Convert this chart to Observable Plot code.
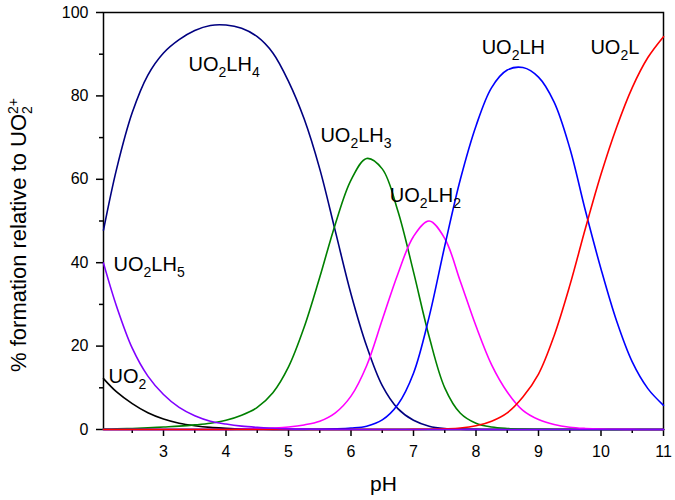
<!DOCTYPE html>
<html>
<head>
<meta charset="utf-8">
<script src="https://cdn.jsdelivr.net/npm/d3@7"></script>
<script src="https://cdn.jsdelivr.net/npm/@observablehq/plot@0.6"></script>
<style>
  html, body { margin: 0; padding: 0; background: #fff; }
  #chart { width: 675px; height: 500px; }
</style>
</head>
<body>
<div id="chart"></div>
<script>
// ---- data ----
const pH = [2.04, 2.25, 2.5, 2.75, 3, 3.25, 3.5, 3.75, 4, 4.25, 4.5, 4.75, 5, 5.25, 5.5, 5.75, 6, 6.25, 6.5, 6.75, 7, 7.25, 7.5, 7.75, 8, 8.25, 8.5, 8.75, 9, 9.25, 9.5, 9.75, 10, 10.25, 10.5, 10.75, 11];

const UO2    = [12.2, 9.0, 6.2, 4.0, 2.5, 1.5, 0.9, 0.5, 0.3, 0.15, 0.08, 0.04, 0.02, 0, 0, 0, 0, 0, 0, 0, 0, 0, 0, 0, 0, 0, 0, 0, 0, 0, 0, 0, 0, 0, 0, 0, 0];
const UO2LH5 = [39.9, 29.5, 19.5, 12.8, 8.4, 5.3, 3.3, 2.0, 1.3, 0.8, 0.5, 0.3, 0.15, 0.08, 0.04, 0.02, 0, 0, 0, 0, 0, 0, 0, 0, 0, 0, 0, 0, 0, 0, 0, 0, 0, 0, 0, 0, 0];
const UO2LH4 = [47.8, 62.5, 76.0, 85.0, 90.3, 93.5, 95.7, 96.9, 97.0, 96.2, 94.2, 90.3, 83.5, 74.5, 62.5, 47.5, 32.5, 20.0, 10.5, 5.0, 2.2, 0.8, 0.25, 0.1, 0.03, 0, 0, 0, 0, 0, 0, 0, 0, 0, 0, 0, 0];
const UO2LH3 = [0.1, 0.15, 0.25, 0.4, 0.6, 0.8, 1.1, 1.5, 2.2, 3.4, 5.3, 8.8, 15.0, 24.5, 36.5, 49.3, 59.8, 65.0, 62.5, 52.4, 37.8, 22.3, 10.0, 3.9, 1.5, 0.6, 0.25, 0.1, 0.05, 0, 0, 0, 0, 0, 0, 0, 0];
const UO2LH2 = [0, 0, 0, 0, 0, 0, 0, 0, 0, 0.1, 0.2, 0.35, 0.6, 1.1, 2.0, 4.0, 8.0, 15.3, 26.3, 37.3, 46.3, 50.0, 45.8, 35.5, 24.8, 15.5, 9.0, 4.6, 2.4, 1.2, 0.55, 0.25, 0.1, 0.05, 0.02, 0, 0];
const UO2LH  = [0, 0, 0, 0, 0, 0, 0, 0, 0, 0, 0, 0, 0, 0.02, 0.05, 0.15, 0.35, 0.8, 2.3, 6.0, 13.5, 27.0, 44.0, 60.0, 72.8, 82.0, 86.2, 86.8, 84.5, 78.5, 67.5, 52.5, 38.5, 26.0, 16.2, 9.8, 5.8];
const UO2L   = [0, 0, 0, 0, 0, 0, 0, 0, 0, 0, 0, 0, 0, 0, 0, 0, 0, 0, 0, 0, 0.02, 0.05, 0.15, 0.35, 0.9, 2.0, 4.0, 7.8, 13.3, 22.5, 34.5, 48.2, 61.2, 72.5, 82.0, 89.2, 94.2];

const seriesNames  = ["UO2", "UO2LH4", "UO2LH3", "UO2LH2", "UO2LH", "UO2L", "UO2LH5"];
const seriesValues = [UO2, UO2LH4, UO2LH3, UO2LH2, UO2LH, UO2L, UO2LH5];
const seriesColors = ["#000000", "#000080", "#008000", "#ff00ff", "#0000ff", "#ff0000", "#8000ff"];

const labelText = ["UO_2LH_4", "UO_2LH_5", "UO_2", "UO_2LH_3", "UO_2LH_2", "UO_2LH", "UO_2L"];
const labelX    = [3.40, 2.20, 2.12, 5.51, 6.62, 8.09, 9.83];
const labelY    = [85.9, 38.1, 11.2, 68.9, 54.5, 90.1, 90.1];

const xTicks = [3, 4, 5, 6, 7, 8, 9, 10, 11];
const xMinor = [2.5, 3.5, 4.5, 5.5, 6.5, 7.5, 8.5, 9.5, 10.5];
const yTicks = [0, 20, 40, 60, 80, 100];
const yMinor = [10, 30, 50, 70, 90];

const xTitle = "pH";
const yTitle = "% formation relative to UO_2^{2+}";

// ---- build ----
const lineMarks = seriesNames.map((name, s) =>
  Plot.line(pH.map((x, i) => ({x, y: seriesValues[s][i]})), {
    x: "x", y: "y", stroke: seriesColors[s], strokeWidth: 1.6, curve: "catmull-rom"
  })
);
const labels = labelText.map((t, i) => ({t, x: labelX[i], y: labelY[i]}));

const chart = Plot.plot({
  width: 675,
  height: 500,
  marginLeft: 103,
  marginRight: 12,
  marginTop: 12,
  marginBottom: 71,
  style: {fontFamily: "'Liberation Sans', Arial, sans-serif", fontSize: "16px", background: "#fff", color: "#000"},
  x: {domain: [2.04, 11]},
  y: {domain: [0, 100]},
  marks: [
    Plot.axisX({ticks: xMinor, tickSize: 4, tickFormat: () => "", label: null, strokeWidth: 1.5}),
    Plot.axisX({ticks: xTicks, tickSize: 7, tickPadding: 9, label: null, strokeWidth: 1.5, fontSize: 16}),
    Plot.axisY({ticks: yMinor, tickSize: 4, tickFormat: () => "", label: null, strokeWidth: 1.5}),
    Plot.axisY({ticks: yTicks, tickSize: 7, tickPadding: 8, label: null, strokeWidth: 1.5, fontSize: 16}),
    Plot.frame({stroke: "#000", strokeWidth: 1.5}),
    ...lineMarks,
    Plot.text(labels, {x: "x", y: "y", text: "t", textAnchor: "start", lineAnchor: "bottom", fontSize: 20, fill: "#000"}),
    Plot.text([xTitle], {frameAnchor: "bottom", dy: 61, textAnchor: "middle", lineAnchor: "bottom", fontSize: 21, fill: "#000"}),
    Plot.text([yTitle], {frameAnchor: "left", rotate: -90, dx: -78, dy: 14, textAnchor: "middle", lineAnchor: "bottom", fontSize: 22, fill: "#000"})
  ]
});
document.getElementById("chart").appendChild(chart);

// ---- rich text: _x subscript, ^{..} superscript ----
const NS = "http://www.w3.org/2000/svg";
function richify(el, subSize, down, up) {
  const s = el.textContent;
  if (!/[_^]/.test(s)) return;
  while (el.firstChild) el.removeChild(el.firstChild);
  let cur = 0, lastSubWidth = 0, prevSub = false, m;
  const re = /([_^])(?:\{([^}]*)\}|(.))|([^_^]+)/g;
  while ((m = re.exec(s))) {
    const t = document.createElementNS(NS, "tspan");
    if (m[4] !== undefined) {
      t.textContent = m[4];
      if (cur !== 0) t.setAttribute("dy", -cur);
      cur = 0; prevSub = false;
      el.appendChild(t);
    } else {
      const isSub = m[1] === "_";
      const target = isSub ? down : -up;
      t.textContent = m[2] !== undefined ? m[2] : m[3];
      t.setAttribute("font-size", subSize);
      t.setAttribute("dy", target - cur);
      cur = target;
      if (!isSub && prevSub) t.setAttribute("dx", -lastSubWidth);
      el.appendChild(t);
      if (isSub) { lastSubWidth = t.getComputedTextLength(); prevSub = true; } else prevSub = false;
    }
  }
}
chart.querySelectorAll("text").forEach(el => richify(el, 14, 6, 8));
</script>
</body>
</html>
